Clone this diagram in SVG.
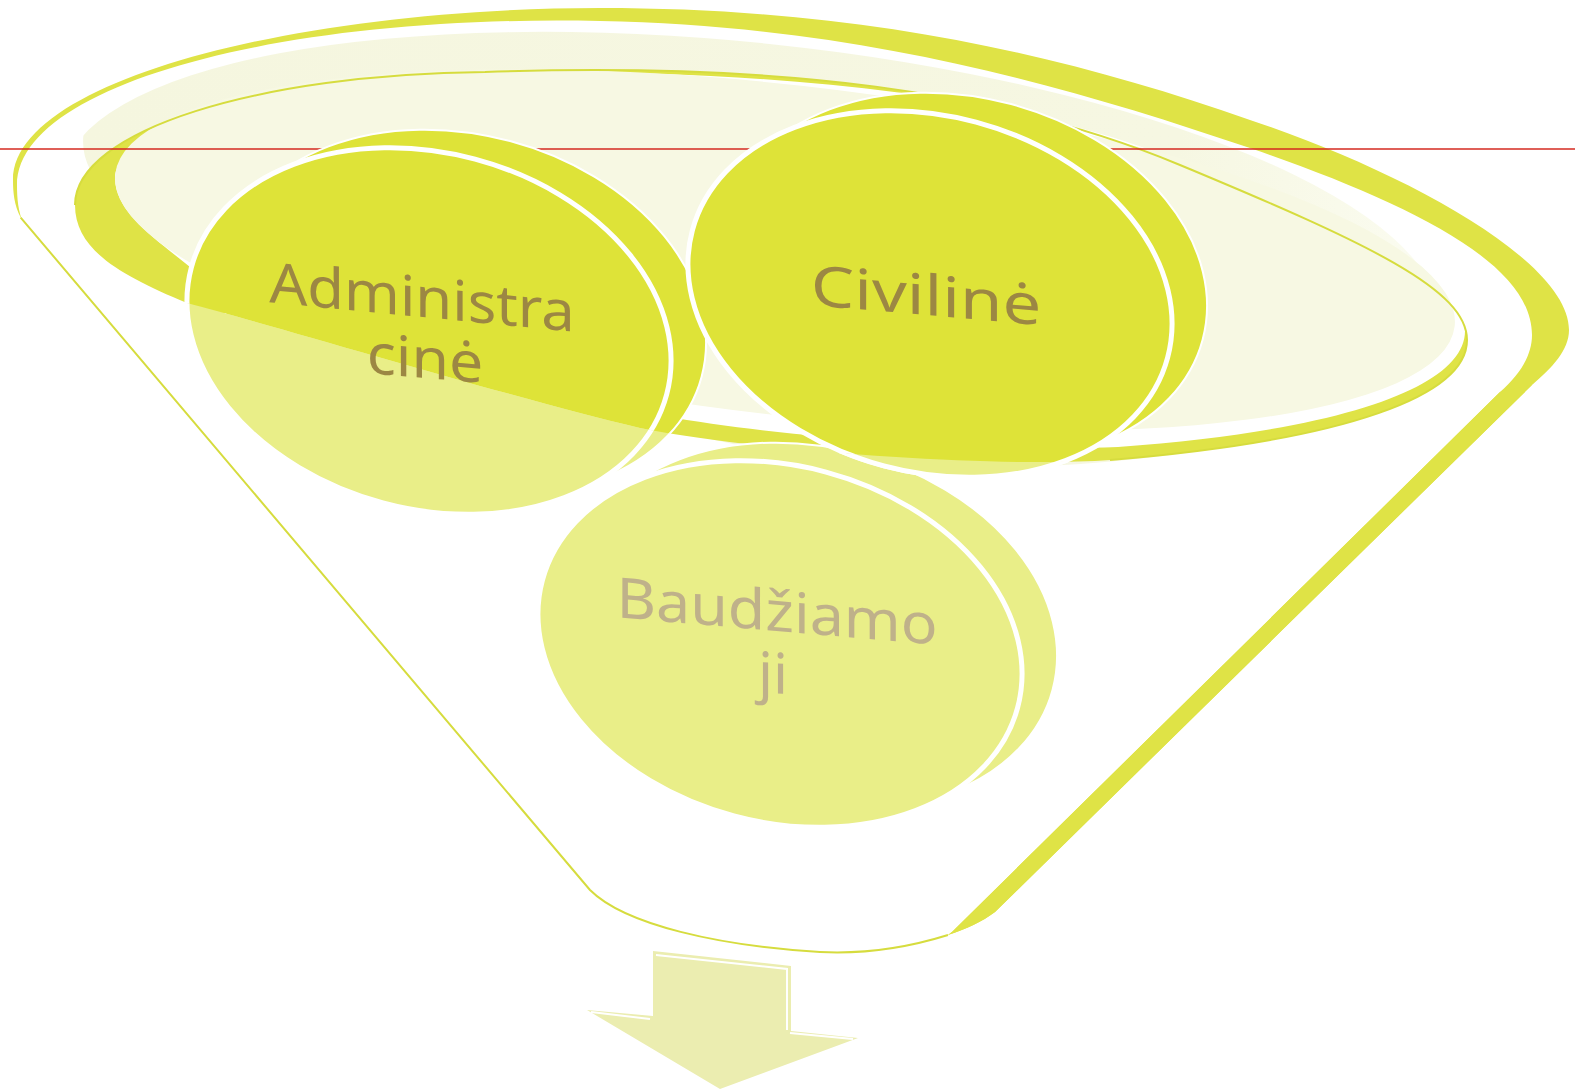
<svg xmlns="http://www.w3.org/2000/svg" width="1575" height="1091" viewBox="0 0 1575 1091">
<defs>
<style>
.band{fill:#dfe346}
.white{fill:#ffffff}
.pale{fill:#f7f8e3}
.thin{fill:none;stroke:#d6dc3e;stroke-width:2}
.dark{fill:#dee338}
.light{fill:#e9ee88}
.front{stroke:#ffffff;stroke-width:5}
.back{stroke:#ffffff;stroke-width:2}
.lbl{font-family:"Noto Sans","Liberation Sans",sans-serif;font-size:56px;font-style:normal;font-weight:400;fill:#9c8743;text-anchor:middle}
.lbl2{fill:#bfb18a}
</style>
<linearGradient id="r2fade" x1="0" y1="0" x2="1" y2="0">
<stop offset="0" stop-color="#f5f6df"/>
<stop offset="0.8" stop-color="#f6f7e2"/>
<stop offset="1" stop-color="#fbfcf1"/>
</linearGradient>
<clipPath id="above">
<path d="M0,0 H1575 V340 H1467 C1467,395 1350,440 1110,460 C1000,468 760,452 640,428 C520,400 290,330 187,303 C120,275 75,250 75,205 L0,205 Z"/>
</clipPath>
<clipPath id="below">
<path d="M75,205 C75,250 120,275 187,303 C290,330 520,400 640,428 C760,452 1000,468 1110,460 C1350,440 1467,395 1467,340 L1530,350 L1500,392 L957,927 C954,930 951,933 948,935 C900,950 860,954 820,952 C720,946 625,925 590,890 L20.7,217.6 Z"/>
</clipPath>
</defs>

<rect width="1575" height="1091" fill="#ffffff"/>

<g id="funnel">
<path class="band" d="M20.7,217.6 C14,205 13,192 13,180 C13,80 300,8 600,8 C850,8 1050,50 1250,120 C1400,170 1569,260 1569,330 C1569,350 1552,368 1532,385 L995,912 C982,922 966,929 948,935 C900,950 860,954 820,952 C720,946 625,925 590,890 Z"/>
<path class="white" d="M24,225 C18,212 17,198 17,185 C17,85 280,14 600,21 C850,26 1050,80 1250,148 C1400,200 1532,260 1532,335 C1532,355 1520,375 1500,392 L957,927 C954,930 951,933 948,935 C900,950 860,954 820,952 C720,946 625,925 590,890 Z"/>
<ellipse fill="url(#r2fade)" cx="750" cy="250" rx="691" ry="207" transform="rotate(6 750 250)" clip-path="url(#above)"/>
<path class="band" d="M75,205 C75,130 260,74 485,72 C780,62 1000,90 1180,165 C1370,244 1467,290 1467,340 C1467,395 1350,440 1110,460 C1000,468 760,452 640,428 C520,400 290,330 187,303 C120,275 75,250 75,205 Z"/>
<path class="white" d="M115,178 C118,120 300,72 512,72 C800,70 1040,98 1200,170 C1390,250 1465,290 1465,331 C1465,385 1350,430 1118,447 C1000,452 800,440 663,416 C480,385 250,320 185,263 C150,235 115,210 115,178 Z"/>
<ellipse class="pale" cx="785" cy="250" rx="674" ry="165" transform="rotate(6.5 785 250)"/>
<path class="thin" d="M75,205 C75,130 260,74 485,72 C780,62 1000,90 1180,165 C1370,244 1467,290 1467,340 C1467,395 1350,440 1110,460"/>
</g>

<g id="guide-line">
<line x1="0" y1="149" x2="1575" y2="149" stroke="#d42a20" stroke-width="1.6"/>
</g>

<g id="node-baudziamoji">
<ellipse class="light back" cx="815" cy="626" rx="246" ry="178" transform="rotate(15 815 626)"/>
<ellipse class="light front" cx="780" cy="644" rx="246" ry="178" transform="rotate(15 780 644)"/>
<text class="lbl lbl2" x="0" y="0" transform="translate(777 631) skewY(4.9) scale(1.088 1)">Baudžiamo</text>
<text class="lbl lbl2" x="0" y="0" transform="translate(773 693) skewY(4.9) scale(1.04 1)">ji</text>
</g>

<g id="node-administracine">
<ellipse class="dark back" cx="464" cy="313" rx="246" ry="178" transform="rotate(15 464 313)"/>
<ellipse class="dark front" cx="429" cy="331" rx="246" ry="178" transform="rotate(15 429 331)"/>
<g clip-path="url(#below)">
<ellipse class="light back" cx="464" cy="313" rx="246" ry="178" transform="rotate(15 464 313)"/>
<ellipse class="light front" cx="429" cy="331" rx="246" ry="178" transform="rotate(15 429 331)"/>
</g>
<text class="lbl" x="0" y="0" transform="translate(422 317) skewY(5.5) scale(1.067 1)">Administra</text>
<text class="lbl" x="0" y="0" transform="translate(425 378) skewY(5) scale(1.085 1)">cinė</text>
</g>

<g id="node-civiline">
<ellipse class="dark back" cx="965" cy="276" rx="246" ry="178" transform="rotate(15 965 276)"/>
<ellipse class="dark front" cx="930" cy="294" rx="246" ry="178" transform="rotate(15 930 294)"/>
<g clip-path="url(#below)">
<ellipse class="light back" cx="965" cy="276" rx="246" ry="178" transform="rotate(15 965 276)"/>
<ellipse class="light front" cx="930" cy="294" rx="246" ry="178" transform="rotate(15 930 294)"/>
</g>
<text class="lbl" x="0" y="0" transform="translate(926 315) skewY(5) scale(1.227 1)">Civilinė</text>
</g>

<g id="funnel-front">
<path class="band" d="M1532,385 L995,912 C982,922 966,929 948,935 C951,933 954,930 957,927 L1500,392 Z"/>
<path class="thin" d="M20.7,217.6 L590,890 C625,925 720,946 820,952 C860,954 900,950 948,935"/>
</g>

<g id="connectors">
<polygon points="653,951 791,966 791,1031 858,1038 720,1089 587,1010 653,1016" fill="#ebedb0"/>
<polyline points="656,955 787,969 787,1030" fill="none" stroke="#ffffff" stroke-width="2"/>
<polyline points="591,1012 650,1019" fill="none" stroke="#ffffff" stroke-width="2"/>
<polyline points="790,1033 853,1039" fill="none" stroke="#ffffff" stroke-width="2"/>
</g>
</svg>
